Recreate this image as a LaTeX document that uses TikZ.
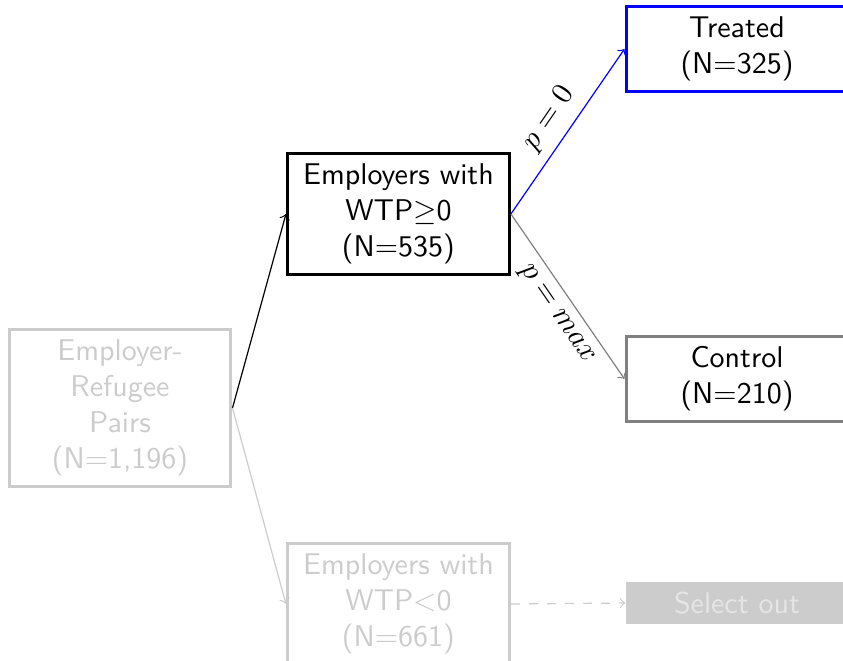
\documentclass[tikz,border=0pt]{standalone}
\usepackage{fontspec}
\begin{document}
\begin{tikzpicture}[>=to, font=\sffamily,
        box/.style={draw, line width=1pt, align=center, minimum width=2.6cm}]
        \clip (0,0) rectangle (9.876,7.744);

        % Left: full sample
        \node[box, draw=black!20, text=black!20, minimum height=1.82cm] (pairs) at (1.406,2.964) {Employer-\\Refugee\\Pairs\\(N$=$1,196)};

        % Middle: split by WTP
        \node[box, minimum height=1.38cm] (pos) at (4.668,5.237) {Employers with\\WTP$\geq$0\\(N$=$535)};
        \node[box, draw=black!20, text=black!20, minimum height=1.38cm] (neg) at (4.668,0.668) {Employers with\\WTP$<$0\\(N$=$661)};

        % Right: arms
        \node[box, draw=blue, minimum height=0.97cm] (treat) at (8.634,7.170) {Treated\\(N$=$325)};
        \node[box, draw=gray, minimum height=0.98cm] (ctrl) at (8.634,3.304) {Control\\(N$=$210)};
        \node[fill=black!20, text=black!10, minimum width=2.6cm, minimum height=0.48cm] (out) at (8.634,0.679) {Select out};

        \draw[->] (pairs.east) -- (pos.west);
        \draw[->, black!20] (pairs.east) -- (neg.west);
        \draw[->, blue] (pos.east) -- node[sloped, above, text=black] {$p=0$} (treat.west);
        \draw[->, gray] (pos.east) -- node[pos=0.54, sloped, below, text=black] {$p=max$} (ctrl.west);
        \draw[->, dashed, black!20] (neg.east) -- (out.west);
\end{tikzpicture}
\end{document}
